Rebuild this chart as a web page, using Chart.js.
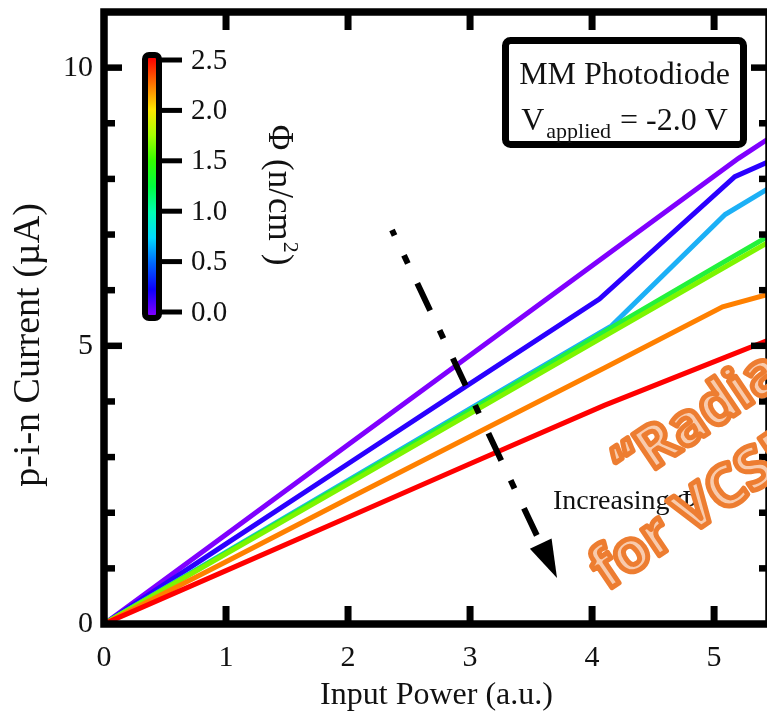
<!DOCTYPE html>
<html>
<head>
<meta charset="utf-8">
<script src="https://cdn.jsdelivr.net/npm/chart.js@4.4.1/dist/chart.umd.min.js"></script>
<style>
  html, body { margin: 0; padding: 0; background: #fff; overflow: hidden; }
  #wrap { width: 767px; height: 715px; overflow: hidden; position: relative; }
  canvas { position: absolute; left: 0; top: 0; }
</style>
</head>
<body>
<div id="wrap"><canvas id="chart" width="800" height="715"></canvas></div>
<script>
const SERIF = '"Liberation Serif", "Times New Roman", serif';
const SANS = '"Open Sans", "DejaVu Sans", sans-serif';

// one curve per fluence, purple (0.0) ... red (2.5)
const power0 = [0, 1, 2, 3, 4.1, 5.2, 5.5];
const current0 = [0, 1.61, 3.22, 4.83, 6.6, 8.37, 8.8];
const power1 = [0, 1, 2, 3, 4.06, 5.17, 5.5];
const current1 = [0, 1.44, 2.88, 4.32, 5.84, 8.04, 8.36];
const power2 = [0, 1, 2, 3, 4.16, 5.09, 5.5];
const current2 = [0, 1.29, 2.58, 3.87, 5.36, 7.36, 7.9];
const power3 = [0, 1, 2, 3, 4.1, 5.1, 5.5];
const current3 = [0, 1.28, 2.56, 3.84, 5.25, 6.53, 7.04];
const power4 = [0, 1, 2, 3, 4.1, 5.1, 5.5];
const current4 = [0, 1.26, 2.52, 3.78, 5.17, 6.43, 6.93];
const power5 = [0, 1, 2, 3, 4.1, 5.07, 5.5];
const current5 = [0, 1.12, 2.25, 3.37, 4.6, 5.7, 5.96];
const power6 = [0, 1, 2, 3, 4.1, 5.1, 5.5];
const current6 = [0, 0.96, 1.92, 2.88, 3.93, 4.8, 5.15];

const lineColors = ['#7f00ff', '#2a00ff', '#1cb0f6', '#22f23c', '#7df500', '#ff8000', '#ff0000'];

const xTickValues = [0, 1, 2, 3, 4, 5];
const yTickValues = [0, 5, 10];
const yMinorValues = [1, 2, 3, 4, 6, 7, 8, 9];

// colour bar (fluence scale)
const cbTicks = [0.0, 0.5, 1.0, 1.5, 2.0, 2.5];
const cbMin = 0, cbMax = 2.5;

const curves = [
  [power0, current0], [power1, current1], [power2, current2], [power3, current3],
  [power4, current4], [power5, current5], [power6, current6]
];

const datasets = curves.map(([xs, ys], i) => ({
  data: xs.map((x, k) => ({ x: x, y: ys[k] })),
  borderColor: lineColors[i],
  borderWidth: 5,
  pointRadius: 0,
  tension: 0,
  fill: false,
  order: -i
}));

function seg(ctx, x1, y1, x2, y2) {
  ctx.beginPath();
  ctx.moveTo(x1, y1);
  ctx.lineTo(x2, y2);
  ctx.stroke();
}

function drawColorbar(ctx) {
  const top = 60, bot = 312;
  const vy = v => bot - (v - cbMin) / (cbMax - cbMin) * (bot - top);
  const g = ctx.createLinearGradient(0, 58, 0, 315);
  for (let k = 0; k <= 10; k++) {
    g.addColorStop(k / 10, `hsl(${Math.round(270 * k / 10)}, 100%, 50%)`);
  }
  ctx.fillStyle = g;
  ctx.fillRect(147, 57, 11, 259);
  ctx.strokeStyle = '#000';
  ctx.lineWidth = 6;
  ctx.beginPath();
  ctx.roundRect(145, 55, 14, 263, 4);
  ctx.stroke();
  ctx.lineWidth = 5;
  ctx.font = `29px ${SERIF}`;
  ctx.fillStyle = '#111';
  ctx.textAlign = 'left';
  ctx.textBaseline = 'middle';
  cbTicks.forEach(v => {
    seg(ctx, 159, vy(v), 182, vy(v));
    ctx.fillText(v.toFixed(1), 191, vy(v) + 1);
  });

  // rotated label
  ctx.save();
  ctx.translate(280, 194);
  ctx.rotate(Math.PI / 2);
  ctx.textBaseline = 'alphabetic';
  const main = 'Φ (n/cm';
  ctx.font = `35px ${SERIF}`;
  const w1 = ctx.measureText(main).width;
  ctx.font = `22px ${SERIF}`;
  const w2 = ctx.measureText('2').width;
  ctx.font = `35px ${SERIF}`;
  const w3 = ctx.measureText(')').width;
  let x0 = -(w1 + w2 + w3) / 2;
  ctx.fillText(main, x0, 11);
  ctx.font = `22px ${SERIF}`;
  ctx.fillText('2', x0 + w1 + 1, -4);
  ctx.font = `35px ${SERIF}`;
  ctx.fillText(')', x0 + w1 + w2 + 2, 11);
  ctx.restore();
}

function drawInfoBox(ctx) {
  ctx.beginPath();
  ctx.roundRect(505.5, 40.5, 238, 104, 5);
  ctx.fillStyle = '#fff';
  ctx.fill();
  ctx.lineWidth = 7;
  ctx.strokeStyle = '#000';
  ctx.stroke();
  ctx.fillStyle = '#111';
  ctx.textBaseline = 'alphabetic';
  ctx.textAlign = 'center';
  ctx.font = `32px ${SERIF}`;
  ctx.fillText('MM Photodiode', 624.5, 84);
  ctx.textAlign = 'left';
  const big = `32px ${SERIF}`, small = `22px ${SERIF}`;
  ctx.font = big;
  const a = ctx.measureText('V').width;
  const c = ctx.measureText(' = -2.0 V').width;
  ctx.font = small;
  const b = ctx.measureText('applied').width;
  let x = 624.5 - (a + b + c + 3) / 2;
  ctx.font = big;
  ctx.fillText('V', x, 130);
  ctx.font = small;
  ctx.fillText('applied', x + a + 2, 138);
  ctx.font = big;
  ctx.fillText(' = -2.0 V', x + a + b + 3, 130);
}

function drawArrow(ctx) {
  const sx = 392, sy = 230, tx = 557, ty = 578;
  const len = Math.hypot(tx - sx, ty - sy);
  const ux = (tx - sx) / len, uy = (ty - sy) / len;
  const bx = tx - 38 * ux, by = ty - 38 * uy;
  ctx.strokeStyle = '#000';
  ctx.lineWidth = 6;
  ctx.setLineDash([30, 22, 9, 22]);
  ctx.lineDashOffset = 24;
  seg(ctx, sx, sy, bx + 4 * ux, by + 4 * uy);
  ctx.setLineDash([]);
  ctx.fillStyle = '#000';
  ctx.beginPath();
  ctx.moveTo(tx, ty);
  ctx.lineTo(bx - 12 * uy, by + 12 * ux);
  ctx.lineTo(bx + 12 * uy, by - 12 * ux);
  ctx.closePath();
  ctx.fill();

  ctx.fillStyle = '#111';
  ctx.font = `28px ${SERIF}`;
  ctx.textAlign = 'left';
  ctx.textBaseline = 'alphabetic';
  ctx.fillText('Increasing Φ', 553, 509);
}

function drawStamp(ctx, text, x, y, angle) {
  ctx.save();
  ctx.translate(x, y);
  ctx.rotate(angle * Math.PI / 180);
  ctx.font = `700 58px ${SANS}`;
  ctx.textAlign = 'left';
  ctx.textBaseline = 'alphabetic';
  ctx.lineJoin = 'round';
  ctx.fillStyle = '#f8cbad';
  ctx.fillText(text, 0, 0);
  ctx.strokeStyle = '#ed7d31';
  ctx.lineWidth = 5;
  ctx.strokeText(text, 0, 0);
  ctx.restore();
}

const decor = {
  id: 'decor',
  afterDatasetsDraw(chart) {
    const { ctx, chartArea: a, scales: { x, y } } = chart;
    ctx.save();
    ctx.strokeStyle = '#000';
    ctx.lineCap = 'butt';

    // ticks pointing into the plot on all four sides
    ctx.lineWidth = 7;
    xTickValues.slice(1).forEach(v => {
      const px = x.getPixelForValue(v);
      seg(ctx, px, a.bottom, px, a.bottom - 18);
      seg(ctx, px, a.top, px, a.top + 18);
    });
    ctx.lineWidth = 6.5;
    yTickValues.slice(1).forEach(v => {
      const py = y.getPixelForValue(v);
      seg(ctx, a.left, py, a.left + 18, py);
      seg(ctx, a.right, py, a.right - 18, py);
    });
    yMinorValues.forEach(v => {
      const py = y.getPixelForValue(v);
      seg(ctx, a.left, py, a.left + 11, py);
      seg(ctx, a.right, py, a.right - 10, py);
    });

    ctx.lineWidth = 7.5;
    ctx.strokeRect(a.left, a.top, a.right - a.left, a.bottom - a.top);

    // y axis title
    ctx.save();
    ctx.translate(29, (a.top + a.bottom) / 2 + 27);
    ctx.rotate(-Math.PI / 2);
    ctx.fillStyle = '#111';
    ctx.font = `38px ${SERIF}`;
    ctx.textAlign = 'center';
    ctx.textBaseline = 'middle';
    ctx.fillText('p-i-n Current (µA)', 0, 0);
    ctx.restore();

    drawColorbar(ctx);
    drawInfoBox(ctx);
    drawArrow(ctx);
    drawStamp(ctx, '“Radiation-Hardened', 630, 486, -34);
    drawStamp(ctx, 'for VCSEL', 607, 591, -34);
    ctx.restore();
  }
};

const ctx = document.getElementById('chart').getContext('2d');
new Chart(ctx, {
  type: 'line',
  data: { datasets: datasets },
  options: {
    responsive: false,
    animation: false,
    devicePixelRatio: 1,
    layout: { padding: { left: 0, right: 31, top: 12, bottom: 0 }, autoPadding: false },
    plugins: { legend: { display: false }, tooltip: { enabled: false } },
    scales: {
      x: {
        type: 'linear',
        min: 0,
        max: 5.45,
        grid: { display: false, drawTicks: false },
        border: { display: false },
        ticks: { padding: 16, maxRotation: 0, autoSkip: false, color: '#111', font: { family: SERIF, size: 30 } },
        afterBuildTicks: s => { s.ticks = xTickValues.map(v => ({ value: v })); },
        afterFit: s => { s.height = 91; s.paddingLeft = 0; s.paddingRight = 0; },
        title: { display: true, text: 'Input Power (a.u.)', color: '#111', font: { family: SERIF, size: 32 }, padding: { top: 0, bottom: 0 } }
      },
      y: {
        type: 'linear',
        min: 0,
        max: 11,
        grid: { display: false, drawTicks: false },
        border: { display: false },
        ticks: { padding: 11, autoSkip: false, color: '#111', font: { family: SERIF, size: 30 } },
        afterBuildTicks: s => { s.ticks = yTickValues.map(v => ({ value: v })); },
        afterFit: s => { s.width = 104; s.paddingTop = 0; s.paddingBottom = 0; }
      }
    }
  },
  plugins: [decor]
});
</script>
</body>
</html>
